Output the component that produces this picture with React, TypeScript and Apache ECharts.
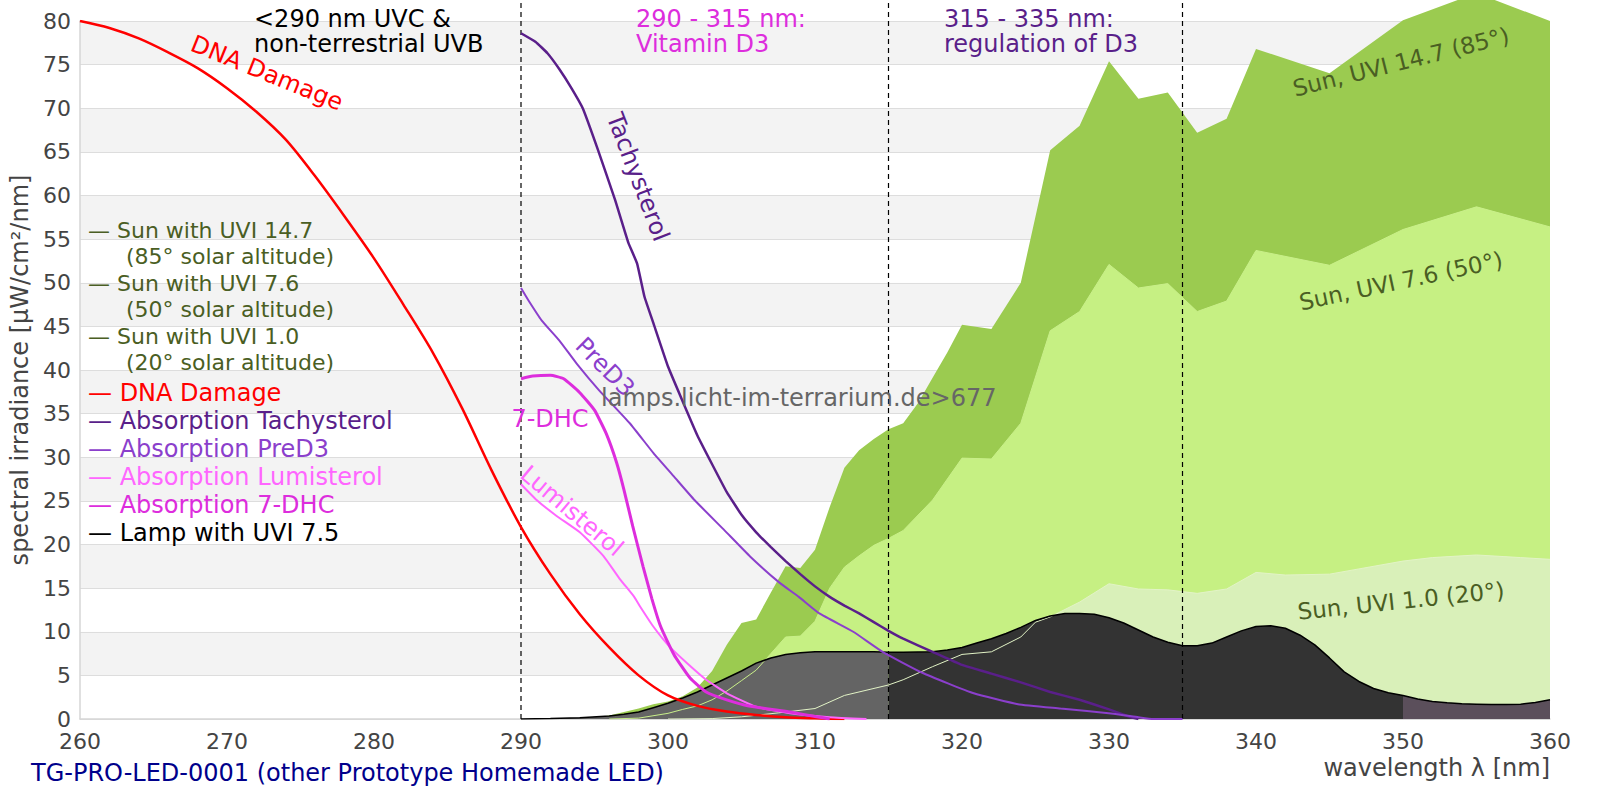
import React, { useRef, useEffect } from 'react';
import * as echarts from 'echarts';

// [wavelength nm, spectral irradiance µW/cm²/nm]
const sunUvi147: number[][] = [
  [294, 0], [296, 0.4], [298, 1.2], [299, 1.7], [300, 2.0], [301, 2.6], [302, 3.6],
  [303, 5.5], [304, 8.5], [305, 11.0], [306, 11.4], [307, 14.5], [308, 17.5], [309, 17.3],
  [310, 19.4], [311, 24.3], [312, 28.8], [313, 30.8], [314, 32.1], [315, 33.2], [316, 33.9],
  [317, 36.2], [318, 39.1], [319, 42.0], [320, 45.2], [322, 44.7], [324, 50.0], [326, 65.2],
  [328, 68.0], [330, 75.4], [332, 71.1], [334, 71.8], [336, 67.2], [338, 68.8], [340, 76.8],
  [345, 74.0], [350, 80.1], [355, 83.2], [360, 80.0],
];

const sunUvi76: number[][] = [
  [296, 0], [298, 0.1], [300, 0.65], [301, 1.1], [302, 1.5], [303, 2.2], [304, 3.2],
  [305, 4.4], [306, 5.6], [307, 7.5], [308, 9.4], [309, 9.5], [310, 11.2], [311, 15.0],
  [312, 17.4], [313, 18.7], [314, 19.9], [315, 20.7], [316, 21.6], [318, 25.1], [320, 29.9],
  [322, 29.8], [324, 33.9], [326, 44.5], [328, 46.7], [330, 52.1], [332, 49.4], [334, 49.9],
  [336, 46.7], [338, 47.9], [340, 53.7], [345, 52.0], [350, 56.1], [355, 58.7], [360, 56.4],
];

const sunUvi10: number[][] = [
  [300, 0], [303, 0.05], [305, 0.25], [307.5, 0.7], [310, 1.2], [312, 2.7], [315, 3.9],
  [316, 4.5], [318, 6.0], [320, 7.4], [322, 7.7], [324, 9.4], [325, 11.1], [326, 11.7],
  [328, 13.4], [330, 15.5], [332, 14.9], [334, 14.8], [336, 14.4], [338, 14.9], [340, 16.8],
  [342, 16.5], [345, 16.6], [347, 17.2], [350, 18.1], [352, 18.5], [355, 18.8], [358, 18.5],
  [360, 18.3],
];

const lamp: number[][] = [
  [290, 0], [292, 0.05], [294, 0.15], [296, 0.35], [297, 0.55], [298, 0.8], [299, 1.3],
  [300, 1.8], [301, 2.4], [302, 3.1], [303, 3.9], [304, 4.7], [305, 5.5], [306, 6.4],
  [307, 7.0], [308, 7.4], [309, 7.6], [310, 7.7], [312, 7.7], [314, 7.7], [315, 7.65],
  [316, 7.65], [318, 7.7], [319, 7.9], [320, 8.2], [321, 8.7], [322, 9.2], [323, 9.8],
  [324, 10.5], [325, 11.3], [326, 11.8], [327, 12.1], [328, 12.1], [329, 12.0], [330, 11.6],
  [331, 11.0], [332, 10.2], [333, 9.4], [334, 8.8], [335, 8.4], [336, 8.4], [337, 8.7],
  [338, 9.4], [339, 10.1], [340, 10.6], [341, 10.7], [342, 10.4], [343, 9.6], [344, 8.5],
  [345, 7.0], [346, 5.4], [347, 4.3], [348, 3.5], [349, 3.0], [350, 2.7], [351, 2.3],
  [352, 2.0], [353, 1.85], [354, 1.75], [355, 1.7], [356, 1.65], [357, 1.65], [358, 1.7],
  [359, 1.9], [360, 2.2],
];

const dnaDamage: number[][] = [
  [260, 80], [262, 79.2], [264, 78.0], [266, 76.4], [268, 74.6], [270, 72.3], [272, 69.6],
  [274, 66.4], [276, 62.2], [278, 57.6], [280, 52.8], [282, 47.5], [284, 42.0], [286, 35.6],
  [288, 28.5], [290, 22.0], [292, 16.6], [294, 12.0], [296, 8.2], [298, 5.0], [300, 2.7],
  [302, 1.5], [304, 0.85], [306, 0.45], [308, 0.2], [310, 0.08], [312, 0],
];

const tachysterol: number[][] = [
  [290, 78.6], [291, 77.6], [291.8, 76.3], [292.6, 74.5], [293.4, 72.4], [294.2, 70.0],
  [295.2, 65.4], [296.4, 59.5], [297.3, 54.6], [297.9, 52.2], [298.4, 48.4], [299, 45.4],
  [300, 40.4], [301, 36.4], [302, 32.5], [303, 29.2], [304, 26.0], [305, 23.4], [306, 21.4],
  [307, 19.7], [308, 18.1], [309, 16.6], [310, 15.2], [311, 14.0], [312, 13.0], [313, 12.1],
  [314, 11.1], [315, 10.1], [316, 9.2], [318, 7.7], [320, 6.2], [322, 5.2], [324, 4.2],
  [326, 3.1], [328, 2.2], [330, 1.1], [331.5, 0.2], [332, 0],
];

const preD3: number[][] = [
  [290, 49.4], [290.5, 48.0], [291.4, 45.7], [292.6, 43.4], [293.8, 40.7], [295.3, 37.7],
  [297.4, 33.9], [299, 30.5], [300.4, 27.8], [301.8, 25.1], [303.8, 21.7], [305.6, 18.6],
  [307.6, 15.6], [308.9, 14.0], [310.3, 12.1], [312.6, 10.0], [314.6, 7.7], [317.3, 5.3],
  [320.8, 2.95], [323.8, 1.7], [326.7, 1.2], [330.3, 0.6], [332, 0.2], [333, 0], [335, 0],
];

const dhc7: number[][] = [
  [290, 39.0], [290.8, 39.3], [292, 39.4], [292.9, 39.0], [294, 37.4], [295, 35.4],
  [295.8, 32.7], [296.5, 29.4], [297, 26.3], [297.6, 22.1], [298.3, 17.5], [298.9, 13.8],
  [299.5, 10.6], [300.4, 7.4], [301.5, 4.7], [302.6, 3.1], [304, 2.2], [305.5, 1.5],
  [308.3, 0.8], [310.1, 0.26], [311, 0],
];

const lumisterol: number[][] = [
  [290, 26.9], [291, 25.2], [292.4, 23.3], [294, 21.4], [295.6, 18.7], [296.7, 16.1],
  [297.7, 14.0], [298.1, 12.9], [299, 10.6], [300.1, 8.3], [301.3, 6.4], [302.6, 4.5],
  [304, 2.95], [306, 1.4], [308.3, 0.65], [311, 0.2], [313.5, 0],
];

// UV band borders (nm)
const bandEdges = [290, 315, 335];
// lamp fill changes colour at these wavelengths
const lampBands: [number, number, string][] = [
  [290, 315, '#646464'],
  [315, 350, '#333333'],
  [350, 360, '#5b4f5b'],
];

const FONT = 'DejaVu Sans';
const SUN_TEXT = '#4a5e23';
const C_DNA = '#ff0000';
const C_TACHY = '#5a1f8a';
const C_PRED3 = '#8b3fcc';
const C_LUMI = '#ff66ff';
const C_DHC = '#dd2ddd';

const deg = (d: number) => (d * Math.PI) / 180;

function label(text: string, x: number, y: number, fill: string, rot = 0, size = 24, align = 'center', lh = 25) {
  return {
    type: 'text',
    x,
    y,
    rotation: deg(rot),
    z: 100,
    style: {
      text,
      fill,
      fontSize: size,
      fontFamily: FONT,
      align,
      verticalAlign: 'middle',
      lineHeight: lh,
    },
  };
}

const legendLine = (text: string, y: number, fill: string) => label(text, 88, y, fill, 0, 24, 'left', 24);
// sun entries sit tighter, so slightly smaller type
const legendSun = (text: string, x: number, y: number) => label(text, x, y, SUN_TEXT, 0, 22, 'left', 22);

const App: React.FC = () => {
  const chartRef = useRef<HTMLDivElement>(null);

  useEffect(() => {
    if (!chartRef.current) return;
    document.body.style.margin = '0';
    const chart = echarts.init(chartRef.current, undefined, { renderer: 'svg' });

    const area = (name: string, data: number[][], color: string): echarts.SeriesOption => ({
      name,
      type: 'line',
      data,
      symbol: 'none',
      clip: false,
      lineStyle: { width: 0 },
      areaStyle: { color, opacity: 1 },
      silent: true,
    });

    const curve = (name: string, data: number[][], color: string, width: number, smooth = 0.15): echarts.SeriesOption => ({
      name,
      type: 'line',
      data,
      symbol: 'none',
      smooth,
      lineStyle: { color, width },
    });

    const lampAreas: echarts.SeriesOption[] = lampBands.map(([from, to, color]) =>
      area('lamp ' + from, lamp.filter((p) => p[0] >= from && p[0] <= to), color)
    );

    const edgeLines: echarts.SeriesOption[] = bandEdges.map((e) => ({
      type: 'line',
      data: [[e, 0], [e, 82.5]],
      symbol: 'none',
      clip: false,
      silent: true,
      lineStyle: { color: '#000', width: 1.2, type: [5, 4] },
    }));

    const graphic: any[] = [
      // left legend
      legendSun('— Sun with UVI 14.7', 88, 230),
      legendSun('(85° solar altitude)', 126, 256.5),
      legendSun('— Sun with UVI 7.6', 88, 283),
      legendSun('(50° solar altitude)', 126, 309.5),
      legendSun('— Sun with UVI 1.0', 88, 336),
      legendSun('(20° solar altitude)', 126, 362.5),
      legendLine('— DNA Damage', 393, C_DNA),
      legendLine('— Absorption Tachysterol', 421, C_TACHY),
      legendLine('— Absorption PreD3', 449, C_PRED3),
      legendLine('— Absorption Lumisterol', 477, C_LUMI),
      legendLine('— Absorption 7-DHC', 505, C_DHC),
      legendLine('— Lamp with UVI 7.5', 533, '#000000'),
      // band notes
      label('<290 nm UVC &\nnon-terrestrial UVB', 254, 31, '#000000', 0, 24, 'left'),
      label('290 - 315 nm:\nVitamin D3', 636, 31, C_DHC, 0, 24, 'left'),
      label('315 - 335 nm:\nregulation of D3', 944, 31, C_TACHY, 0, 24, 'left'),
      // curve labels
      label('DNA Damage', 267, 73, C_DNA, -22),
      label('Tachysterol', 638, 177, C_TACHY, -69),
      label('PreD3', 605, 367, C_PRED3, -45),
      label('7-DHC', 550, 419, C_DHC),
      label('Lumisterol', 572, 511, C_LUMI, -40),
      label('lamps.licht-im-terrarium.de>677', 601, 398, '#666666', 0, 24, 'left'),
      label('Sun, UVI 14.7 (85°)', 1401, 62, SUN_TEXT, 14, 23),
      label('Sun, UVI 7.6 (50°)', 1401, 281, SUN_TEXT, 12, 23),
      label('Sun, UVI 1.0 (20°)', 1401, 601, SUN_TEXT, 6, 23),
    ];

    const option: echarts.EChartsOption = {
      animation: false,
      backgroundColor: '#ffffff',
      textStyle: { fontFamily: FONT },
      title: {
        text: 'TG-PRO-LED-0001 (other Prototype Homemade LED)',
        left: 31,
        top: 761,
        padding: 0,
        textStyle: { color: '#00008b', fontSize: 24, fontWeight: 'normal', fontFamily: FONT },
      },
      grid: { left: 80, right: 50, top: 21, bottom: 81 },
      xAxis: {
        type: 'value',
        min: 260,
        max: 360,
        interval: 10,
        name: 'wavelength λ [nm]',
        nameLocation: 'end',
        nameGap: 0,
        nameTextStyle: {
          color: '#444444',
          fontSize: 24,
          fontFamily: FONT,
          align: 'right',
          verticalAlign: 'top',
          padding: [37, 0, 0, 0],
        },
        axisLine: { show: true, lineStyle: { color: '#d6d6d6', width: 1.5 } },
        axisTick: { show: false },
        axisLabel: { color: '#444444', fontSize: 22, fontFamily: FONT, margin: 11 },
        splitLine: { show: false },
      },
      yAxis: {
        type: 'value',
        min: 0,
        max: 80,
        interval: 5,
        name: 'spectral irradiance [µW/cm²/nm]',
        nameLocation: 'middle',
        nameGap: 48,
        nameTextStyle: { color: '#444444', fontSize: 24, fontFamily: FONT },
        axisLine: { show: true, lineStyle: { color: '#d6d6d6', width: 1.5 } },
        axisTick: { show: false },
        axisLabel: { color: '#444444', fontSize: 22, fontFamily: FONT, margin: 9 },
        splitLine: { show: true, lineStyle: { color: '#dddddd', width: 1 } },
        splitArea: { show: true, areaStyle: { color: ['#ffffff', '#f3f3f3'] } },
      },
      graphic,
      series: [
        area('Sun with UVI 14.7', sunUvi147, '#9bcb50'),
        area('Sun with UVI 7.6', sunUvi76, '#c6f083'),
        area('Sun with UVI 1.0', sunUvi10, '#d9f0b9'),
        ...lampAreas,
        {
          type: 'line',
          data: sunUvi76,
          symbol: 'none',
          silent: true,
          lineStyle: { color: '#c9ef8a', width: 1 },
        },
        {
          type: 'line',
          data: sunUvi10,
          symbol: 'none',
          silent: true,
          lineStyle: { color: '#e2f3c6', width: 1 },
        },
        {
          name: 'Lamp with UVI 7.5',
          type: 'line',
          data: lamp,
          symbol: 'none',
          lineStyle: { color: '#000000', width: 1.5 },
        },
        ...edgeLines,
        curve('DNA Damage', dnaDamage, C_DNA, 2.5, 0.3),
        curve('Absorption Tachysterol', tachysterol, C_TACHY, 2.5, 0.1),
        curve('Absorption PreD3', preD3, C_PRED3, 2),
        curve('Absorption Lumisterol', lumisterol, C_LUMI, 2),
        curve('Absorption 7-DHC', dhc7, C_DHC, 3),
      ],
    };

    chart.setOption(option);

    return () => {
      chart.dispose();
    };
  }, []);

  return <div ref={chartRef} style={{ width: 1600, height: 800 }} />;
};

export default App;
